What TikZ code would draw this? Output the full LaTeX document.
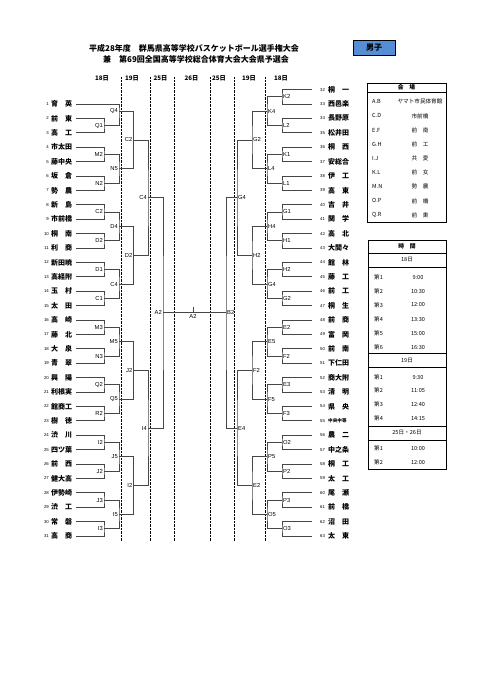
\documentclass[tikz,border=0pt]{standalone}
\usepackage{fontspec}
\setmainfont{Noto Sans CJK JP}
\newfontfamily\labfont{Liberation Sans}
\definecolor{danshiBlue}{RGB}{85,142,213}
\definecolor{bracketGray}{RGB}{70,70,70}

\begin{document}
\begin{tikzpicture}[
  x=1pt,y=-1pt,
  line/.style={draw=bracketGray,line width=0.75pt},
  dotline/.style={draw=black,line width=0.8pt,dash pattern=on 0.7pt off 0.7pt},
  team/.style={font=\fontsize{7}{7}\selectfont\bfseries,inner sep=0pt},
  num/.style={font=\labfont\fontsize{4.3}{4.3}\selectfont,inner sep=0pt},
  lab/.style={font=\labfont\fontsize{5.8}{6}\selectfont,inner sep=1pt},
  day/.style={font=\fontsize{6.2}{6.2}\selectfont\bfseries,inner sep=0pt},
  cell/.style={font=\fontsize{5.6}{6}\selectfont,inner sep=0pt},
  frame/.style={draw=black,line width=1pt}
]
\useasboundingbox (0,0) rectangle (481,680);

\node[font=\fontsize{8}{8}\selectfont\bfseries] (title1) at (194,48.5)
  {平成28年度　群馬県高等学校バスケットボール選手権大会};
\node[font=\fontsize{8}{8}\selectfont\bfseries] (title2) at (196,59)
  {兼　第69回全国高等学校総合体育大会大会県予選会};
\node[draw=black,line width=0.8pt,fill=danshiBlue,minimum width=42pt,minimum height=15.5pt,
  font=\fontsize{8}{8}\selectfont\bfseries] (danshi) at (374,48) {男子};

\foreach \x/\d [count=\i] in {102/18日,132/19日,160.5/25日,191.5/26日,219/25日,249/19日,281/18日}
  \node[day] (day\i) at (\x,78) {\d};
\foreach \x in {121.5,150,174.5,210,234,265}
  \draw[dotline] (\x,77) -- (\x,541);

\foreach \n/\t in {1/育　英,2/前　東,3/高　工,4/市太田,5/藤中央,6/坂　倉,7/勢　農,8/新　島,
  9/市前橋,10/桐　南,11/利　商,12/新田暁,13/高経附,14/玉　村,15/太　田,16/高　崎,17/藤　北,
  18/大　泉,19/青　翠,20/興　陽,21/利根実,22/館商工,23/樹　徳,24/渋　川,25/四ツ葉,26/前　西,
  27/健大高,28/伊勢崎,29/渋　工,30/常　磐,31/高　商} {
  \node[num,anchor=east] (lnum\n) at (49,{89.6+14.4*\n}) {\n};
  \node[team,anchor=west] (lname\n) at (51,{89.6+14.4*\n}) {\t};
  \coordinate (lt\n) at (76,{89.6+14.4*\n});
}
\foreach \n/\t in {32/桐　一,33/西邑楽,34/長野原,35/松井田,36/桐　西,37/安総合,38/伊　工,
  39/高　東,40/吉　井,41/関　学,42/高　北,43/大間々,44/館　林,45/藤　工,46/前　工,47/桐　生,
  48/前　商,49/富　岡,50/前　南,51/下仁田,52/商大附,53/清　明,54/県　央,
  55/{\fontsize{4.6}{5}\selectfont 中央中等},56/農　二,57/中之条,58/桐　工,59/太　工,60/尾　瀬,
  61/前　橋,62/沼　田,63/太　東} {
  \node[num,anchor=west] (rnum\n) at (320,{89.6+14.4*(\n-32)}) {\n};
  \node[team,anchor=west] (rname\n) at (328,{89.6+14.4*(\n-32)}) {\t};
  \coordinate (rt\n) at (312,{89.6+14.4*(\n-32)});
}

\coordinate (lA0) at (lt1);
\foreach \k/\lb in {1/Q1,2/M2,3/N2,4/C2,5/D2,6/D1,7/C1,8/M3,9/N3,10/Q2,11/R2,12/I2,13/J2,14/J3,15/I3} {
  \pgfmathtruncatemacro\ia{2*\k}
  \pgfmathtruncatemacro\ib{2*\k+1}
  \coordinate (lA\k) at (104,{89.6+14.4*(2*\k+0.5)});
  \draw[line] (lt\ia) -| (lA\k) |- (lt\ib);
  \node[lab,anchor=east] (lAl\k) at (lA\k) {\lb};
}
\foreach \j/\lb in {0/Q4,1/N5,2/D4,3/C4,4/M5,5/Q5,6/J5,7/I5} {
  \pgfmathtruncatemacro\ia{2*\j}
  \pgfmathtruncatemacro\ib{2*\j+1}
  \coordinate (lB\j) at (119,{89.6+14.4*(4*\j+1.5)});
  \draw[line] (lA\ia) -| (lB\j) |- (lA\ib);
  \node[lab,anchor=east] (lBl\j) at (lB\j) {\lb};
}
\foreach \j/\lb in {0/C2,1/D2,2/J2,3/I2} {
  \pgfmathtruncatemacro\ia{2*\j}
  \pgfmathtruncatemacro\ib{2*\j+1}
  \coordinate (lC\j) at (133.5,{89.6+14.4*(8*\j+3.5)});
  \draw[line] (lB\ia) -| (lC\j) |- (lB\ib);
  \node[lab,anchor=east] (lCl\j) at (lC\j) {\lb};
}
\foreach \j/\lb in {0/C4,1/I4} {
  \pgfmathtruncatemacro\ia{2*\j}
  \pgfmathtruncatemacro\ib{2*\j+1}
  \coordinate (lD\j) at (148,{89.6+14.4*(16*\j+7.5)});
  \draw[line] (lC\ia) -| (lD\j) |- (lC\ib);
  \node[lab,anchor=east] (lDl\j) at (lD\j) {\lb};
}
\coordinate (lE) at (163,{89.6+14.4*15.5});
\draw[line] (lD0) -| (lE) |- (lD1);
\node[lab,anchor=east] (lEl) at (lE) {A2};

\foreach \k/\lb in {0/K2,1/L2,2/K1,3/L1,4/G1,5/H1,6/H2,7/G2,8/E2,9/F2,10/E3,11/F3,12/O2,13/P2,14/P3,15/O3} {
  \pgfmathtruncatemacro\ia{32+2*\k}
  \pgfmathtruncatemacro\ib{33+2*\k}
  \coordinate (rA\k) at (282,{89.6+14.4*(2*\k+0.5)});
  \draw[line] (rt\ia) -| (rA\k) |- (rt\ib);
  \node[lab,anchor=west] (rAl\k) at (rA\k) {\lb};
}
\foreach \j/\lb in {0/K4,1/L4,2/H4,3/G4,4/E5,5/F5,6/P5,7/O5} {
  \pgfmathtruncatemacro\ia{2*\j}
  \pgfmathtruncatemacro\ib{2*\j+1}
  \coordinate (rB\j) at (267,{89.6+14.4*(4*\j+1.5)});
  \draw[line] (rA\ia) -| (rB\j) |- (rA\ib);
  \node[lab,anchor=west] (rBl\j) at (rB\j) {\lb};
}
\foreach \j/\lb in {0/G2,1/H2,2/F2,3/E2} {
  \pgfmathtruncatemacro\ia{2*\j}
  \pgfmathtruncatemacro\ib{2*\j+1}
  \coordinate (rC\j) at (252,{89.6+14.4*(8*\j+3.5)});
  \draw[line] (rB\ia) -| (rC\j) |- (rB\ib);
  \node[lab,anchor=west] (rCl\j) at (rC\j) {\lb};
}
\foreach \j/\lb in {0/G4,1/E4} {
  \pgfmathtruncatemacro\ia{2*\j}
  \pgfmathtruncatemacro\ib{2*\j+1}
  \coordinate (rD\j) at (237,{89.6+14.4*(16*\j+7.5)});
  \draw[line] (rC\ia) -| (rD\j) |- (rC\ib);
  \node[lab,anchor=west] (rDl\j) at (rD\j) {\lb};
}
\coordinate (rE) at (226,{89.6+14.4*15.5});
\draw[line] (rD0) -| (rE) |- (rD1);
\node[lab,anchor=west] (rEl) at (rE) {B2};

\draw[line] (lE) -- (rE);
\coordinate (fin) at (193,{89.6+14.4*15.5});
\draw[line] (fin) -- ++(0,-6);
\node[lab,anchor=north] (finl) at (fin) {A2};

\draw[frame] (367,83) rectangle (446,222);
\draw[line,draw=black] (367,92) -- (446,92);
\node[cell,font=\fontsize{5.8}{6}\selectfont\bfseries] (venue) at (406.5,87.5) {会　場};
\foreach \k/\v [count=\i from 0] in {A.B/ヤマト市民体育館,C.D/市前橋,E.F/前　南,G.H/前　工,
  I.J/共　愛,K.L/前　女,M.N/勢　農,O.P/前　橋,Q.R/前　東} {
  \node[cell,anchor=west] (vk\i) at (372,{101.7+14.17*\i}) {\k};
  \node[cell] (vv\i) at (420,{101.7+14.17*\i}) {\v};
}

\draw[frame] (368,240) rectangle (446,469);
\foreach \y in {253,267,353,367,426,440}
  \draw[line,draw=black] (368,\y) -- (446,\y);
\node[cell,font=\fontsize{5.8}{6}\selectfont\bfseries] (timeh) at (407,246.5) {時　間};
\node[cell] (d18) at (407,260) {18日};
\node[cell] (d19) at (407,360.5) {19日};
\node[cell] (d2526) at (407,433) {25日・26日};
\foreach \t [count=\i] in {9:00,10:30,12:00,13:30,15:00,16:30} {
  \node[cell,anchor=west] (ka\i) at (374,{263+14*\i}) {第\i};
  \node[cell] (ta\i) at (418,{263+14*\i}) {\t};
}
\foreach \t [count=\i] in {9:30,11:05,12:40,14:15} {
  \node[cell,anchor=west] (kb\i) at (374,{363.3+13.7*\i}) {第\i};
  \node[cell] (tb\i) at (418,{363.3+13.7*\i}) {\t};
}
\foreach \t [count=\i] in {10:00,12:00} {
  \node[cell,anchor=west] (kc\i) at (374,{434+14*\i}) {第\i};
  \node[cell] (tc\i) at (418,{434+14*\i}) {\t};
}
\end{tikzpicture}
\end{document}
